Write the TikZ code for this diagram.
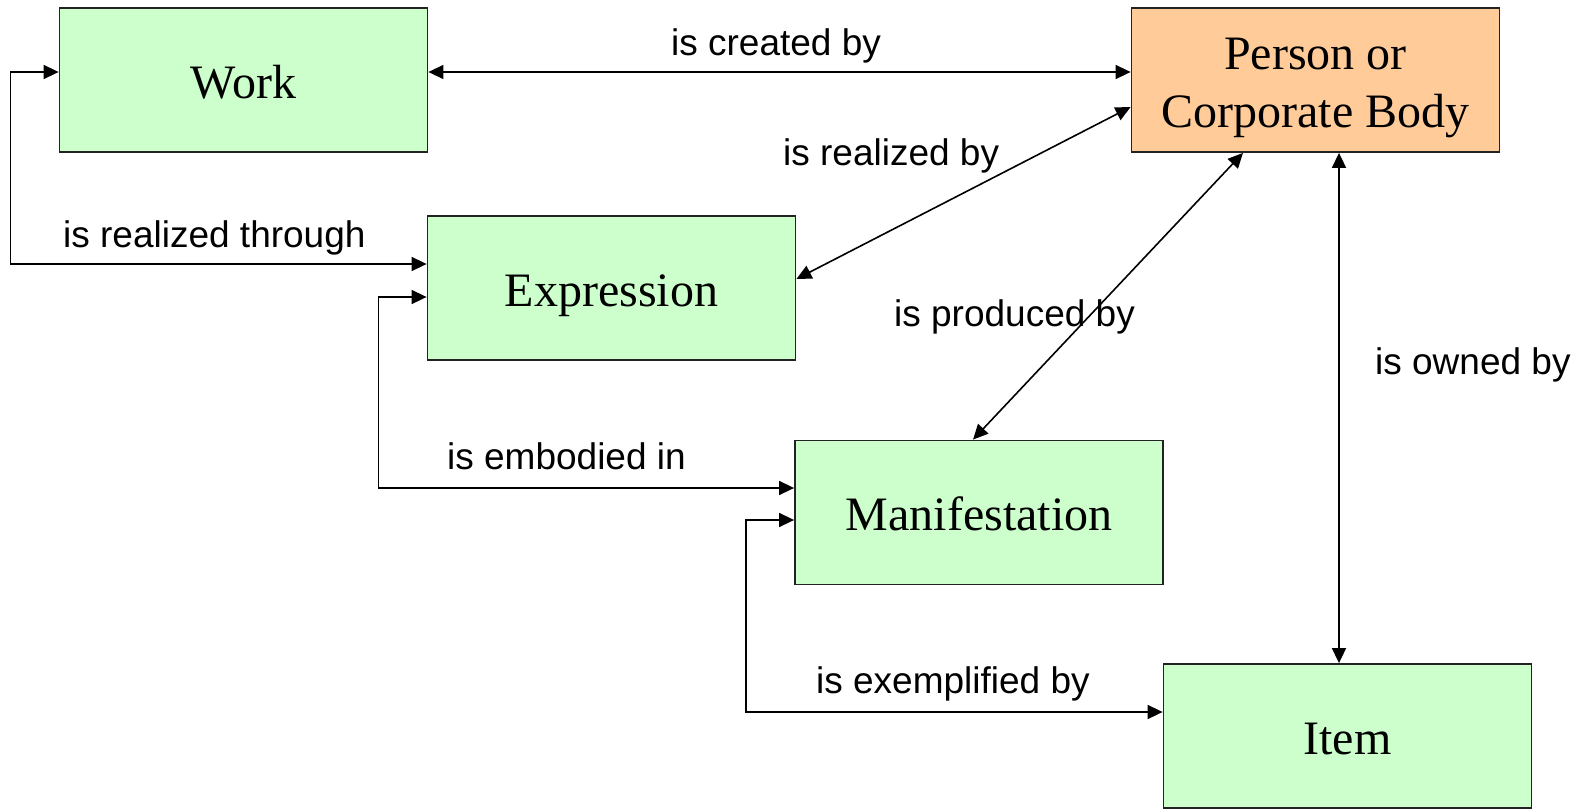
\documentclass[tikz,border=0pt]{standalone}
\usepackage{fontspec}
\setmainfont{Liberation Serif}
\newfontfamily\labelfont{Liberation Sans}
\usetikzlibrary{arrows.meta}
\definecolor{entgreen}{HTML}{CCFFCC}
\definecolor{entorange}{HTML}{FFCC99}
\definecolor{edgegray}{HTML}{222222}
\begin{document}
\begin{tikzpicture}[x=1pt,y=-1pt,
  entity/.style={draw=edgegray, line width=1.8pt, fill=entgreen,
    minimum width=368pt, minimum height=144pt, inner sep=0pt,
    font=\fontsize{48}{58}\selectfont, text height=36pt, text depth=0pt},
  agent/.style={entity, fill=entorange, align=center, text height=94pt, text depth=0pt},
  rel/.style={line width=1.6pt, black, {Triangle[length=15pt,width=14pt]}-{Triangle[length=15pt,width=14pt]}},
  rellabel/.style={anchor=base west, inner sep=0pt, font=\labelfont\fontsize{37}{44}\selectfont}
]
\useasboundingbox (0,0) rectangle (1583,809);

% entities
\node[entity] (work)  at (243.5,80)   {Work};
\node[agent]  (pcb)   at (1315.5,80)  {Person or\\Corporate Body};
\node[entity] (expr)  at (611.5,288)  {Expression};
\node[entity] (manif) at (979,512.5)  {Manifestation};
\node[entity] (item)  at (1347.5,736) {Item};

% relationships
\draw[rel] ([yshift=8pt]work.east) -- ([yshift=8pt]pcb.west);
\draw[rel] ([yshift=8pt]work.west) -- ++(-48,0) |- ([yshift=24pt]expr.west);
\draw[rel] ([yshift=-9pt]expr.west) -- ++(-48,0) |- ([yshift=24.5pt]manif.west);
\draw[rel] ([yshift=-7.5pt]manif.west) -- ++(-48,0) |- ([yshift=24pt]item.west);
\draw[rel] ([yshift=9pt]expr.east) -- ([yshift=-27pt]pcb.west);
\draw[rel] ([xshift=-72.5pt]pcb.south) -- ([xshift=-6pt]manif.north);
\draw[rel] ([xshift=23.5pt]pcb.south) -- ([xshift=-8.5pt]item.north);

% relationship labels
\node[rellabel] (lcreated)    at (671,55)  {is created by};
\node[rellabel] (lrealizedby) at (783,165) {is realized by};
\node[rellabel] (lthrough)    at (63,247)  {is realized through};
\node[rellabel] (lproduced)   at (894,326) {is produced by};
\node[rellabel] (lowned)      at (1375,374) {is owned by};
\node[rellabel] (lembodied)   at (447,469) {is embodied in};
\node[rellabel] (lexempl)     at (816,693) {is exemplified by};
\end{tikzpicture}
\end{document}
